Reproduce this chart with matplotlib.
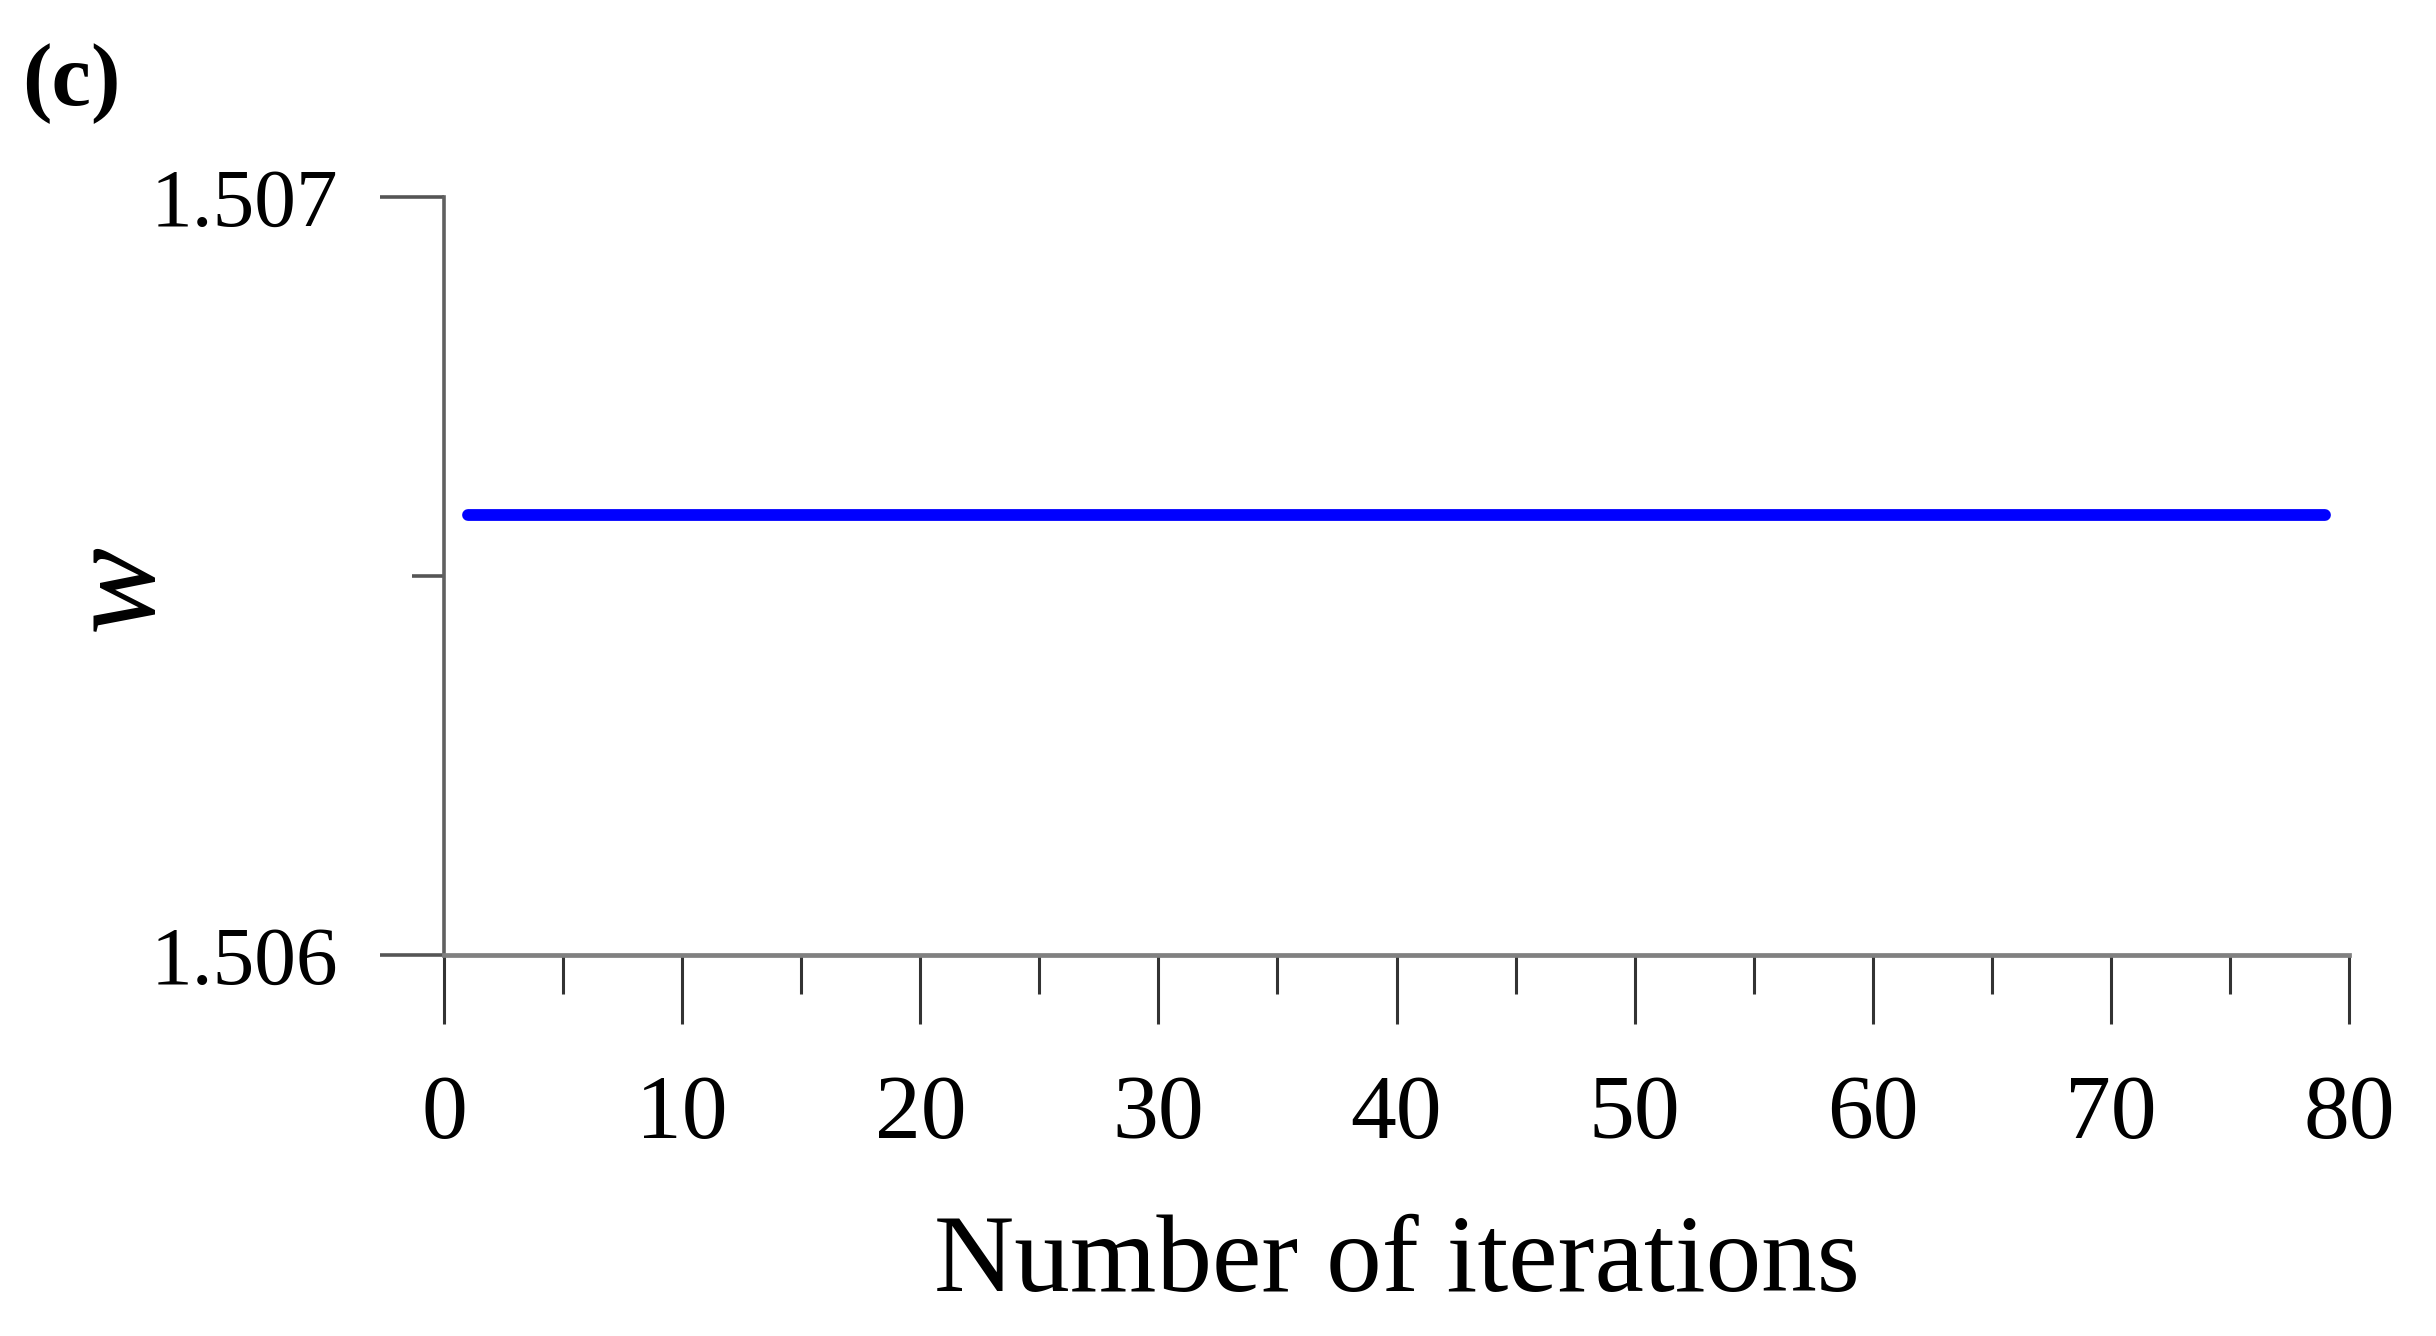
import matplotlib
matplotlib.use("Agg")
import matplotlib.pyplot as plt
from matplotlib.ticker import MultipleLocator

# data: w stays flat over the iterations
iterations = list(range(1, 80))
w_values = [1.50658] * len(iterations)

x_ticks = [0, 10, 20, 30, 40, 50, 60, 70, 80]
y_ticks = [1.506, 1.507]
y_ticklabels = ["1.506", "1.507"]

plt.rcParams["font.family"] = ["Liberation Serif", "DejaVu Serif"]

fig = plt.figure(figsize=(24.36, 13.36), dpi=100)
ax = fig.add_axes([0.1823, 0.2852, 0.7820, 0.5673])

ax.plot(iterations, w_values, color="#0000ff", linewidth=8.5,
        solid_capstyle="round")

ax.set_xlim(0, 80)
ax.set_ylim(1.506, 1.507)

ax.set_xticks(x_ticks)
ax.set_xticklabels([str(t) for t in x_ticks])
ax.xaxis.set_minor_locator(MultipleLocator(5))
ax.set_yticks(y_ticks)
ax.set_yticklabels(y_ticklabels)
ax.yaxis.set_minor_locator(MultipleLocator(0.0005))

for side in ["top", "right"]:
    ax.spines[side].set_visible(False)
ax.spines["bottom"].set_color("#808080")
ax.spines["bottom"].set_linewidth(3.4)
ax.spines["left"].set_color("#606060")
ax.spines["left"].set_linewidth(2.6)

ax.tick_params(axis="x", which="major", direction="out", length=50,
               width=2.2, color="#333333", pad=36, labelsize=66)
ax.tick_params(axis="x", which="minor", direction="out", length=28,
               width=2.2, color="#333333")
ax.tick_params(axis="y", which="major", direction="out", length=46,
               width=2.6, color="#555555", pad=30, labelsize=60)
ax.tick_params(axis="y", which="minor", direction="out", length=23,
               width=2.6, color="#555555")

ax.set_xlabel("Number of iterations", fontsize=80)
ax.xaxis.set_label_coords(0.5, -0.343)
ax.set_ylabel("w", fontsize=94, style="italic", va="center")
ax.yaxis.set_label_coords(-0.170, 0.485)

fig.text(0.009, 0.968, "(c)", fontsize=64, fontweight="bold", va="top")

fig.savefig("out.png", dpi=100, facecolor="white")
